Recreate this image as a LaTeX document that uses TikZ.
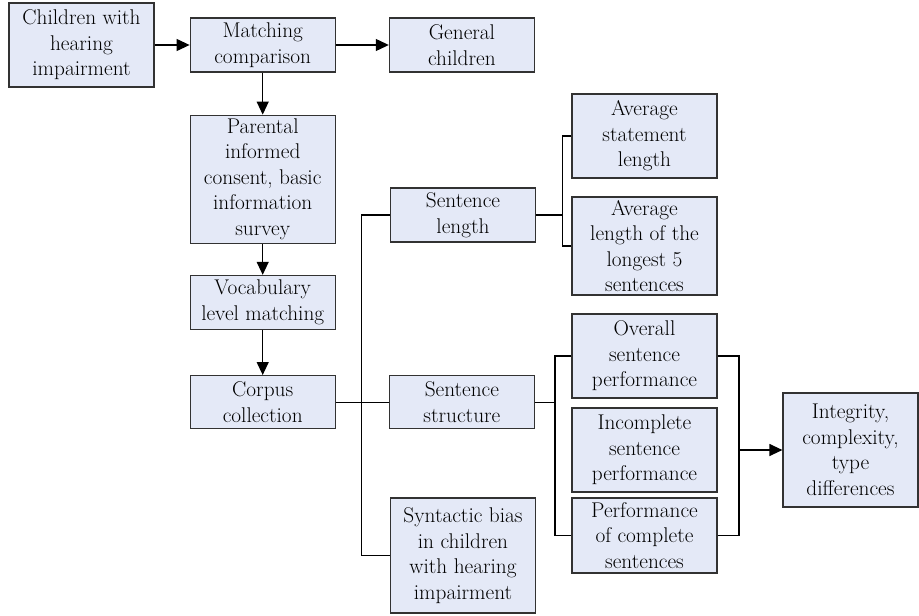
\documentclass[tikz,border=0pt]{standalone}
\usetikzlibrary{positioning,arrows.meta,calc}
\definecolor{boxfill}{RGB}{228,233,247}
\definecolor{boxline}{RGB}{50,50,50}

\begin{document}
\begin{tikzpicture}[x=1pt, y=-1pt, font=\fontsize{21.3}{25.5}\selectfont,
  box/.style={draw=boxline, fill=boxfill, line width=1.2pt, align=center,
    minimum width=145pt, inner xsep=1pt, inner ysep=0pt},
  link/.style={line width=1.2pt},
  arr/.style={link, -{Triangle[length=13pt, width=12pt]}}]
\useasboundingbox (0,0) rectangle (919,616);
% left column
\node[box, minimum height=84pt] (kids) at (81.5,45) {Children with\\hearing\\impairment};
\node[box, minimum height=54pt, right=35pt of kids] (match) {Matching\\comparison};
\node[box, minimum height=54pt, right=53pt of match] (gen) {General\\children};
\node[box, minimum height=128pt, below=42pt of match] (consent) {Parental\\informed\\consent, basic\\information\\survey};
\node[box, minimum height=54pt, below=31pt of consent] (vocab) {Vocabulary\\level matching};
\node[box, minimum height=53pt, below=45pt of vocab] (corpus) {Corpus\\collection};
% middle column
\node[box, minimum height=54pt] (slen) at (463,215) {Sentence\\length};
\node[box, minimum height=53pt, right=53pt of corpus] (sstruct) {Sentence\\structure};
\node[box, minimum height=115pt] (bias) at (463,555.5) {Syntactic bias\\in children\\with hearing\\impairment};
% right column
\node[box, minimum height=84pt] (avgstat) at (644.5,136) {Average\\statement\\length};
\node[box, minimum height=98pt] (avglong) at (644.5,246) {Average\\length of the\\longest 5\\sentences};
\node[box, minimum height=84pt] (overall) at (644.5,356) {Overall\\sentence\\performance};
\node[box, minimum height=84pt] (incompl) at (644.5,450) {Incomplete\\sentence\\performance};
\node[box, minimum height=75pt] (compl) at (644.5,535.5) {Performance\\of complete\\sentences};
\node[box, minimum width=135pt, minimum height=114pt] (integ) at (850.5,450) {Integrity,\\complexity,\\type\\differences};
% junction points
\coordinate (trunk) at ($(corpus.east)+(26,0)$);
\coordinate (lenfork) at ($(slen.east)+(26,0)$);
\coordinate (strfork) at ($(sstruct.east)+(20,0)$);
\coordinate (merge) at (739,450);
\draw[arr] (kids) -- (match); \draw[arr] (match) -- (gen);
\draw[arr] (match) -- (consent); \draw[arr] (consent) -- (vocab); \draw[arr] (vocab) -- (corpus);
\draw[link] (corpus.east) -- (sstruct.west);
\draw[link] (slen.west) -| (trunk) |- (bias.west);
\draw[link] (slen.east) -- (lenfork);
\draw[link] (avgstat.west) -| (lenfork) |- (avglong.west);
\draw[link] (sstruct.east) -- (strfork);
\draw[link] (overall.west) -| (strfork) |- (compl.west);
\draw[link] (overall.east) -| (merge) |- (compl.east);
\draw[arr] (merge) -- (integ.west);
\end{tikzpicture}
\end{document}
